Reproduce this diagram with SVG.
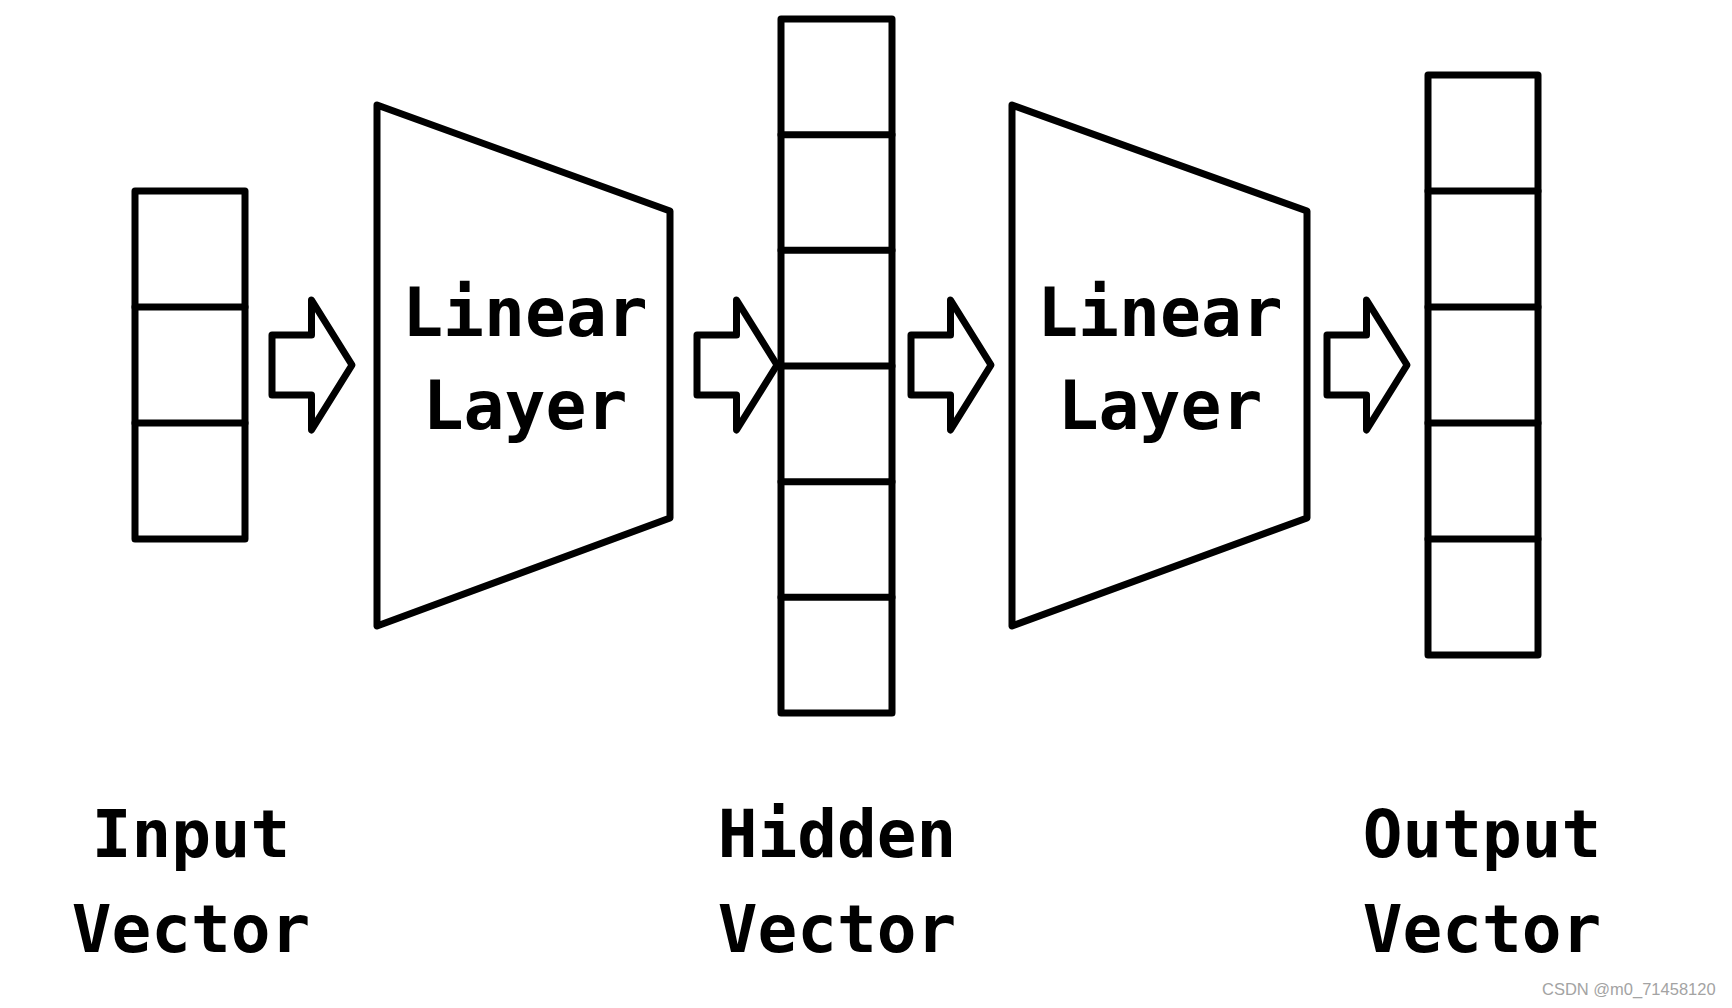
<svg xmlns="http://www.w3.org/2000/svg" width="1732" height="1008" viewBox="0 0 1732 1008">
<style>
.s{fill:none;stroke:#000;stroke-width:7;stroke-linejoin:round;stroke-linecap:round}
.w{fill:#fff;stroke:#000;stroke-width:7;stroke-linejoin:round}
.t{font-family:"DejaVu Sans Mono","Liberation Mono",monospace;font-weight:bold;font-size:68px;fill:#000;text-anchor:middle}
.l{font-size:66px}
.wm{font-family:"Liberation Sans",Arial,sans-serif;font-size:16.5px;fill:#a3a3a3}
</style>
<defs>
<polygon id="arr" class="w" points="0,335 39.5,335 39.5,300 80,365 39.5,430 39.5,395 0,395"/>
</defs>
<rect width="1732" height="1008" fill="#fff"/>
<g id="input-vector">
<rect class="s" x="135" y="191" width="110" height="348"/>
<path class="s" d="M135,307H245M135,423H245"/>
</g>
<g id="linear-layer-1">
<polygon class="w" points="377,105 670,211 670,518 377,626"/>
<text class="t" x="525" y="336">Linear</text>
<text class="t" x="525" y="429">Layer</text>
</g>
<g id="hidden-vector">
<rect class="s" x="781" y="19" width="111" height="694"/>
<path class="s" d="M781,134.7H892M781,250.3H892M781,366H892M781,481.7H892M781,597.3H892"/>
</g>
<g id="linear-layer-2">
<polygon class="w" points="1012,105 1307,211 1307,518 1012,626"/>
<text class="t" x="1160" y="336">Linear</text>
<text class="t" x="1160" y="429">Layer</text>
</g>
<g id="output-vector">
<rect class="s" x="1428" y="75" width="110" height="580"/>
<path class="s" d="M1428,191H1538M1428,307H1538M1428,423H1538M1428,539H1538"/>
</g>
<g id="connectors">
<use href="#arr" x="272"/>
<use href="#arr" x="697"/>
<use href="#arr" x="911"/>
<use href="#arr" x="1327"/>
</g>
<g id="labels">
<text class="t l" x="191" y="857">Input</text>
<text class="t l" x="191" y="952">Vector</text>
<text class="t l" x="837" y="857">Hidden</text>
<text class="t l" x="837" y="952">Vector</text>
<text class="t l" x="1482" y="857">Output</text>
<text class="t l" x="1482" y="952">Vector</text>
</g>
<text class="wm" x="1542" y="995">CSDN @m0_71458120</text>
</svg>
